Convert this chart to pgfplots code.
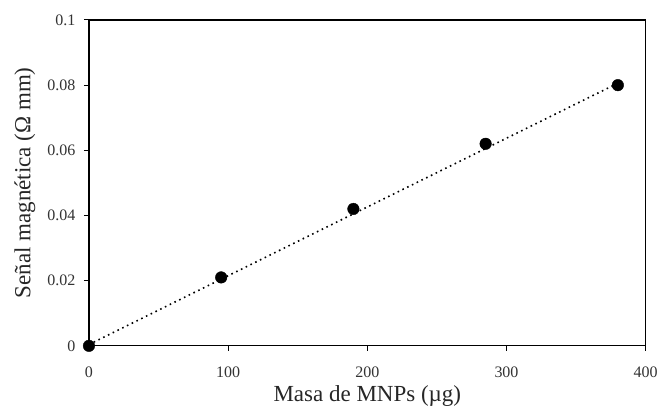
\documentclass[border=0pt]{standalone}
\usepackage{fontspec}
\setmainfont{Liberation Serif}
\usepackage{pgfplots}
\pgfplotsset{compat=1.18}

\begin{document}
\begin{tikzpicture}
\begin{axis}[
    scale only axis,
    width=557pt, height=326pt,
    xmin=0, xmax=400, ymin=0, ymax=0.1,
    xtick={0,100,200,300,400},
    ytick={0,0.02,0.04,0.06,0.08,0.1},
    scaled y ticks=false,
    yticklabel style={/pgf/number format/fixed, /pgf/number format/precision=2, xshift=-5pt},
    xticklabel style={yshift=-13pt},
    /pgf/number format/assume math mode=true,
    tick pos=left,
    tick align=outside,
    major tick length=5pt,
    tick style={black, line width=1pt},
    axis line style={black, line width=1.2pt},
    tick label style={font=\fontsize{16}{18}\selectfont, text=black!80},
    xlabel={Masa de MNPs (µg)},
    ylabel={Señal magnética (Ω mm)},
    label style={font=\fontsize{23}{27}\selectfont, text=black!85},
    xlabel style={at={(axis description cs:0.5,0)}, anchor=base, yshift=-56pt},
    ylabel style={at={(axis description cs:-0.115,0.5)}, anchor=center},
    clip=false,
]
% linear trend (dotted)
\addplot[black, line width=1.6pt, dash pattern=on 1.6pt off 3.7pt] coordinates {
    (0,0.0004) (380,0.0806)
};
% measured points
\addplot[only marks, mark=*, mark size=5.8pt, black] coordinates {
    (0,0)
    (95,0.021)
    (190,0.042)
    (285,0.062)
    (380,0.080)
};
\end{axis}
% page margins as in the reference
\path ([shift={(-89pt,-61pt)}]current axis.south west) rectangle ([shift={(15pt,20pt)}]current axis.north east);
\end{tikzpicture}
\end{document}
